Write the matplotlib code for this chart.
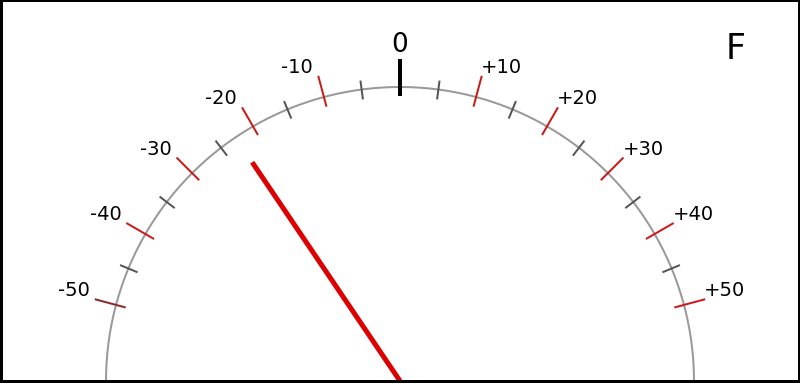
import numpy as np
import matplotlib
matplotlib.use("Agg")
import matplotlib.pyplot as plt
from matplotlib.patches import Rectangle

# ---- data ----
major_values = [-50, -40, -30, -20, -10, 10, 20, 30, 40, 50]
major_labels = ["-50", "-40", "-30", "-20", "-10", "+10", "+20", "+30", "+40", "+50"]
minor_values = [-45, -35, -25, -15, -5, 5, 15, 25, 35, 45]
zero_value = 0
zero_label = "0"
needle_value = -22.7
unit_label = "F"
deg_per_unit = 1.5
scale_min, scale_max = -60, 60

# ---- geometry (pixel space) ----
W, H = 800, 384
cx, cy = 400, 381
R = 294

fig = plt.figure(figsize=(W / 100, H / 100), dpi=100)
ax = fig.add_axes([0, 0, 1, 1])
ax.set_xlim(0, W)
ax.set_ylim(H, 0)
ax.axis("off")

px = 72 / 100  # points per pixel


def pos(v, r):
    t = np.deg2rad(v * deg_per_unit)
    return cx + r * np.sin(t), cy - r * np.cos(t)


# arc
vals = np.linspace(scale_min, scale_max, 400)
ax.plot(*pos(vals, R), color="#999999", lw=2 * px, solid_capstyle="butt", zorder=1)

# minor ticks
for v in minor_values:
    x0, y0 = pos(v, R - 10)
    x1, y1 = pos(v, R + 9)
    ax.plot([x0, x1], [y0, y1], color="#555555", lw=2 * px, solid_capstyle="butt", zorder=2)

# major ticks + labels
for v, lab in zip(major_values, major_labels):
    col = "#8b2a2a" if v == -50 else "#cc1a1a"
    x0, y0 = pos(v, R - 10)
    x1, y1 = pos(v, R + 22)
    ax.plot([x0, x1], [y0, y1], color=col, lw=2 * px, solid_capstyle="butt", zorder=2)
    ox, oy = pos(v, R + 22)
    if v < 0:
        ax.text(ox - 5, oy - 3, lab, ha="right", va="baseline", fontsize=14,
                family="DejaVu Sans", color="black")
    else:
        ax.text(ox - 1, oy - 3, lab, ha="left", va="baseline", fontsize=14,
                family="DejaVu Sans", color="black")

# zero tick
x0, y0 = pos(zero_value, R - 9)
x1, y1 = pos(zero_value, R + 28)
ax.plot([x0, x1], [y0, y1], color="black", lw=4 * px, solid_capstyle="butt", zorder=3)
ax.text(cx, 52, zero_label, ha="center", va="baseline", fontsize=19,
        family="DejaVu Sans", color="black")

# unit label
ax.text(736, 59, unit_label, ha="center", va="baseline", fontsize=25,
        family="DejaVu Sans", color="black")

# needle
nx, ny = pos(needle_value, 264)
ax.plot([cx, nx], [cy, ny], color="#dd0000", lw=5 * px, solid_capstyle="butt", zorder=4)

# frame
ax.add_patch(Rectangle((0.5, -0.5), 798, 381, fill=False, edgecolor="black",
                       lw=3 * px, zorder=5))

fig.savefig("out.png", dpi=100)
